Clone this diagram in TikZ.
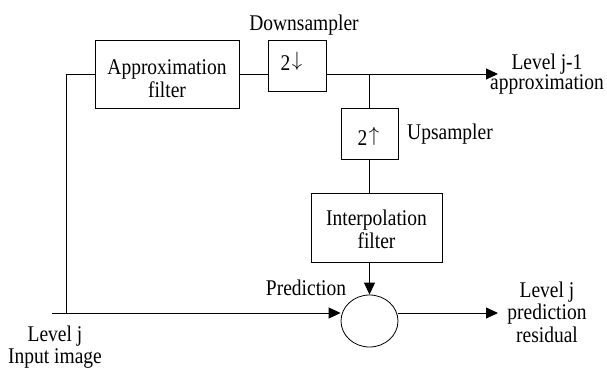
\documentclass[tikz,border=0pt]{standalone}
\usepackage{fontspec}
\setmainfont{Liberation Serif}
\usetikzlibrary{arrows.meta,shapes.geometric}
\newcommand{\tx}[1]{\scalebox{1}[1.15]{#1}}
\newcommand{\fnt}[1]{\fontsize{19.5}{#1}\selectfont\lineskiplimit=-50pt\relax}
\begin{document}
\begin{tikzpicture}[x=1pt,y=-1pt,
  every node/.style={font=\fnt{23}},
  blk/.style={draw, line width=0.9pt, inner sep=0pt, align=center},
  lbl/.style={inner sep=0pt, align=center, anchor=base},
  wire/.style={line width=1pt},
  arr/.style={line width=1pt, -{Triangle[length=12pt,width=11pt]}}]
\useasboundingbox (0,0) rectangle (607,367);
% blocks
\node[blk, minimum width=144pt, minimum height=68pt, text height=46pt, text depth=0pt] (af) at (167,74) {\tx{Approximation}\\\tx{filter}};
\node[blk, minimum width=58pt, minimum height=51pt, text height=16pt, text depth=7pt] (ds) at (297,65.5) {\hspace*{-11pt}\tx{2}\kern1.5pt\raisebox{0.194em}{$\downarrow$}};
\node[blk, minimum width=57pt, minimum height=51pt, text height=23pt, text depth=0pt] (us) at (369.5,133.5) {\hspace*{-2pt}\tx{2}\kern1.5pt\raisebox{0.194em}{$\uparrow$}};
\node[blk, minimum width=131pt, minimum height=69pt, text height=41pt, text depth=0pt] (ip) at (376.5,227.5) {\tx{Interpolation}\\\tx{filter}};
\node[draw, ellipse, line width=0.8pt, minimum width=57pt, minimum height=52pt, inner sep=0pt] (sum) at (369.5,321) {};
% coordinates
\coordinate (br) at (369.5,74);
\coordinate (outA) at (498,74);
\coordinate (inL) at (52,313);
\coordinate (corner) at (66,313);
\coordinate (outB) at (498,313);
% connectors
\draw[wire] (af.east) -- (af.east -| ds.west);
\draw[arr] (ds.east |- br) -- (outA);
\draw[wire] (br) -- (us.north);
\draw[wire] (us.south) -- (us.south |- ip.north);
\draw[arr] (ip.south -| sum.north) -- (sum.north);
\draw[wire] (corner) |- (af.west);
\draw[arr] (inL) -- (inL -| sum.west);
\draw[arr] (sum.east |- inL) -- (outB);
% labels
\node[lbl] (tds) at (304,30) {\tx{Downsampler}};
\node[lbl] (tus) at (450,139) {\tx{Upsampler}};
\node[lbl] (tpr) at (306,295) {\tx{Prediction}};
\node[lbl, font=\fnt{20.5}] (tla) at (547,89.5) {\tx{Level j-1}\\\tx{approximation}};
\node[lbl, font=\fnt{22.5}] (tlr) at (547,342) {\tx{Level j}\\\tx{prediction}\\\tx{residual}};
\node[lbl, font=\fnt{22}] (tin) at (55,363) {\tx{Level j}\\\tx{Input image}};
\end{tikzpicture}
\end{document}
